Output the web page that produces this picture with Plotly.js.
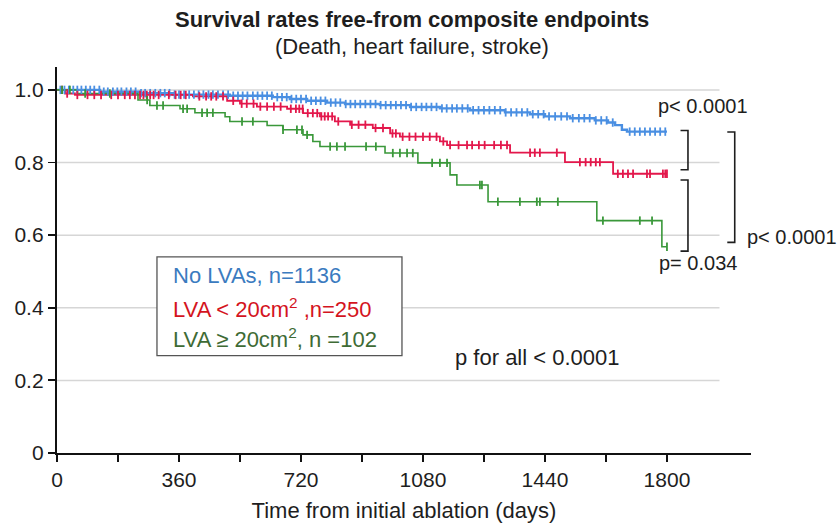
<!DOCTYPE html>
<html>
<head>
<meta charset="utf-8">
<script src="https://cdn.plot.ly/plotly-3.0.1.min.js"></script>
<style>html,body{margin:0;padding:0;background:#fff}#chart{width:840px;height:525px}</style>
</head>
<body>
<div id="chart"></div>
<script>
// ---- Data ----
const seriesNames = ["No LVAs, n=1136", "LVA < 20cm<sup>2</sup> ,n=250", "LVA \u2265 20cm<sup>2</sup>, n =102"];

// Step points: time (days) and survival after the step
const blueTimes = [0, 127, 245, 342, 510, 637, 687, 738, 797, 850, 953, 1042, 1130, 1219, 1322, 1396, 1440, 1514, 1587, 1626, 1647, 1667, 1682, 1800];
const blueSurv  = [1.0, 0.995, 0.991, 0.987, 0.984, 0.980, 0.975, 0.970, 0.965, 0.961, 0.958, 0.953, 0.949, 0.944, 0.938, 0.933, 0.927, 0.922, 0.916, 0.910, 0.903, 0.890, 0.885, 0.885];

const redTimes = [0, 24, 53, 401, 502, 540, 590, 679, 726, 776, 820, 865, 932, 983, 1012, 1130, 1151, 1337, 1499, 1641, 1800];
const redSurv  = [1.0, 0.990, 0.986, 0.982, 0.970, 0.962, 0.954, 0.948, 0.936, 0.927, 0.913, 0.904, 0.895, 0.880, 0.871, 0.858, 0.848, 0.827, 0.801, 0.769, 0.769];

const greenTimes = [0, 60, 239, 274, 363, 407, 496, 510, 620, 667, 726, 755, 776, 968, 1065, 1160, 1180, 1272, 1593, 1785, 1800];
const greenSurv  = [1.0, 0.990, 0.972, 0.957, 0.948, 0.937, 0.926, 0.913, 0.902, 0.890, 0.876, 0.858, 0.844, 0.826, 0.799, 0.766, 0.738, 0.692, 0.640, 0.568, 0.568];

// Censoring times (tick marks on the curves)
const blueCensor = [10, 22, 35, 48, 60, 72, 85, 98, 110, 125, 138, 150, 165, 178, 190, 205, 218, 232, 248, 260, 275, 290, 305, 318, 332, 347, 360, 375, 390, 404, 418, 432, 447, 460, 475, 490, 505, 520, 534, 548, 562, 578, 592, 606, 620, 634, 650, 664, 678, 692, 706, 720, 735, 750, 764, 778, 792, 808, 822, 836, 852, 866, 880, 895, 910, 925, 940, 955, 970, 985, 1000, 1015, 1030, 1045, 1060, 1076, 1090, 1105, 1120, 1136, 1150, 1166, 1180, 1196, 1212, 1228, 1244, 1260, 1276, 1292, 1308, 1324, 1340, 1356, 1372, 1388, 1404, 1420, 1436, 1452, 1470, 1488, 1505, 1522, 1540, 1556, 1572, 1590, 1606, 1622, 1640, 1690, 1705, 1720, 1735, 1750, 1765, 1780, 1795];
const redCensor = [15, 30, 60, 90, 110, 130, 160, 180, 200, 215, 230, 245, 255, 265, 275, 285, 300, 330, 350, 365, 380, 420, 440, 455, 470, 490, 520, 545, 560, 580, 600, 620, 640, 660, 690, 705, 715, 725, 740, 755, 768, 780, 790, 800, 812, 830, 870, 890, 910, 940, 962, 990, 1000, 1020, 1040, 1058, 1080, 1100, 1120, 1140, 1160, 1185, 1210, 1225, 1245, 1262, 1290, 1310, 1328, 1396, 1410, 1425, 1475, 1543, 1560, 1575, 1590, 1602, 1655, 1670, 1685, 1700, 1741, 1750, 1788, 1795, 1800];
const greenCensor = [15, 38, 83, 156, 266, 295, 313, 372, 384, 428, 443, 460, 546, 578, 667, 708, 723, 738, 806, 826, 850, 912, 941, 991, 1012, 1033, 1050, 1107, 1130, 1151, 1248, 1254, 1301, 1366, 1416, 1425, 1478, 1611, 1720, 1756, 1800];

const xTickVals = [0, 360, 720, 1080, 1440, 1800];
const xTickText = ["0", "360", "720", "1080", "1440", "1800"];
const xMinorTickVals = [180, 540, 900, 1260, 1620];
const yTickVals = [0, 0.2, 0.4, 0.6, 0.8, 1.0];
const yTickText = ["0", "0.2", "0.4", "0.6", "0.8", "1.0"];

// ---- Styling ----
const lineColors = ["#4a8fe2", "#e3174b", "#3a983a"];
const textColors = ["#3b7bbf", "#d4141e", "#3e6b35"];
const FONT = "Arial, 'Liberation Sans', sans-serif";
const INK = "#1e1e1e";

function stepValue(times, surv, t) {
  let v = surv[0];
  for (let i = 0; i < times.length; i++) { if (times[i] <= t) v = surv[i]; }
  return v;
}

const curves = [[blueTimes, blueSurv, blueCensor], [redTimes, redSurv, redCensor], [greenTimes, greenSurv, greenCensor]];
const traces = [];
const lineW = [2.4, 1.8, 1.6];
curves.forEach((c, i) => {
  traces.push({x: c[0], y: c[1], type: "scatter", mode: "lines", line: {shape: "hv", color: lineColors[i], width: lineW[i]}, hoverinfo: "skip"});
});
curves.forEach((c, i) => {
  traces.push({x: c[2], y: c[2].map(t => stepValue(c[0], c[1], t)), type: "scatter", mode: "markers",
    marker: {symbol: "line-ns", size: 6, line: {color: lineColors[i], width: 1.8}}, hoverinfo: "skip"});
});

const shapes = [];
[0.2, 0.4, 0.6, 0.8, 1.0].forEach(v => {
  shapes.push({type: "line", xref: "x", yref: "y", x0: 0, x1: 1955, y0: v, y1: v, line: {color: "#d6d6d6", width: 1.5}, layer: "below"});
});
// legend box
shapes.push({type: "rect", xref: "x", yref: "y", x0: 295, x1: 1018, y0: 0.268, y1: 0.540, line: {color: "#555", width: 1.3}, fillcolor: "rgba(255,255,255,1)"});
// brackets
function bracket(x0, x1, y0, y1) {
  return {type: "path", xref: "x", yref: "y", path: `M ${x0} ${y0} L ${x1} ${y0} L ${x1} ${y1} L ${x0} ${y1}`, line: {color: INK, width: 1.6}};
}
shapes.push(bracket(1840, 1862, 0.888, 0.780));
shapes.push(bracket(1840, 1862, 0.752, 0.556));
shapes.push(bracket(1978, 2000, 0.884, 0.580));

const ann = [];
seriesNames.forEach((n, i) => {
  ann.push({xref: "x", yref: "y", x: 336, y: [0.488, 0.400, 0.317][i], text: n, showarrow: false, xanchor: "left", yanchor: "middle", font: {family: FONT, size: 22, color: textColors[i]}});
});
ann.push({xref: "x", yref: "y", x: 1168, y: 0.262, text: "p for all < 0.0001", showarrow: false, xanchor: "left", yanchor: "middle", font: {family: FONT, size: 22, color: INK}});
ann.push({xref: "x", yref: "y", x: 1768, y: 0.956, text: "p< 0.0001", showarrow: false, xanchor: "left", yanchor: "middle", font: {family: FONT, size: 20, color: INK}});
ann.push({xref: "x", yref: "y", x: 1770, y: 0.522, text: "p= 0.034", showarrow: false, xanchor: "left", yanchor: "middle", font: {family: FONT, size: 20, color: INK}});
ann.push({xref: "x", yref: "y", x: 2030, y: 0.594, text: "p< 0.0001", showarrow: false, xanchor: "left", yanchor: "middle", font: {family: FONT, size: 20, color: INK}});
ann.push({xref: "paper", yref: "paper", x: 0.5, y: 1, xshift: 8, yshift: 48, text: "<b>Survival rates free-from composite endpoints</b>", showarrow: false, xanchor: "center", yanchor: "middle", font: {family: FONT, size: 22, color: INK}});
ann.push({xref: "paper", yref: "paper", x: 0.5, y: 1, xshift: 8, yshift: 21, text: "(Death, heart failure, stroke)", showarrow: false, xanchor: "center", yanchor: "middle", font: {family: FONT, size: 22, color: INK}});

const layout = {
  width: 840, height: 525,
  margin: {l: 57, r: 89, t: 67, b: 72},
  paper_bgcolor: "#fff", plot_bgcolor: "#fff",
  showlegend: false,
  xaxis: {range: [0, 2048], tickmode: "array", tickvals: xTickVals, ticktext: xTickText, ticks: "outside", ticklen: 7, tickwidth: 1.8, tickcolor: "#111",
    minor: {tickmode: "array", tickvals: xMinorTickVals, ticks: "outside", ticklen: 7, tickwidth: 1.8, tickcolor: "#111", showgrid: false},
    showline: true, linecolor: "#111", linewidth: 2.2, showgrid: false, zeroline: false, tickfont: {family: FONT, size: 21, color: INK},
    title: {text: "Time from initial ablation (days)", font: {family: FONT, size: 22, color: INK}, standoff: 12}},
  yaxis: {range: [0, 1.063], tickvals: yTickVals, ticktext: yTickText, ticks: "outside", ticklen: 7, tickwidth: 1.8, tickcolor: "#111",
    showline: true, linecolor: "#111", linewidth: 2.2, showgrid: false, zeroline: false, tickfont: {family: FONT, size: 21, color: INK}},
  shapes: shapes,
  annotations: ann
};

Plotly.newPlot("chart", traces, layout, {displayModeBar: false, staticPlot: true});
</script>
</body>
</html>
